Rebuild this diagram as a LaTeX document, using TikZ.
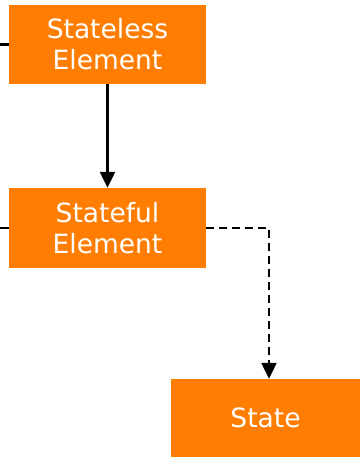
\documentclass[tikz,border=0pt]{standalone}
\usepackage{fontspec}
\setmainfont{DejaVu Sans}
\usetikzlibrary{arrows.meta}
\definecolor{boxorange}{RGB}{255,125,0}
\tikzset{
  elembox/.style={rectangle, fill=boxorange, draw=none, text=white, align=center,
    font=\fontsize{26.5}{31}\selectfont, inner sep=0pt},
  link/.style={line width=2.3pt, draw=black},
  tip/.style={-{Triangle[width=15pt,length=16pt]}}
}
\begin{document}
\begin{tikzpicture}[x=1pt,y=-1pt]
  \useasboundingbox (0,0) rectangle (360,457);
  % element boxes
  \node[elembox, minimum width=197pt, minimum height=79pt] (less) at (107.5,44.5) {Stateless\\Element};
  \node[elembox, minimum width=197pt, minimum height=80pt] (ful) at (107.5,228) {Stateful\\Element};
  \node[elembox, minimum width=189pt, minimum height=78pt] (st) at (265.5,418) {State};
  % incoming stubs from the left edge
  \coordinate (inA) at (0,44.5);
  \coordinate (inB) at (0,228);
  \draw[link] (inA) -- (less.west);
  \draw[link] (inB) -- (ful.west);
  % stateless -> stateful
  \draw[link, tip] (less.south) -- (ful.north);
  % stateful -> state (dashed)
  \coordinate (bend) at (269,228);
  \draw[link, tip, dash pattern=on 8pt off 5pt] (ful.east) -- (bend) -- (bend |- st.north);
\end{tikzpicture}
\end{document}
